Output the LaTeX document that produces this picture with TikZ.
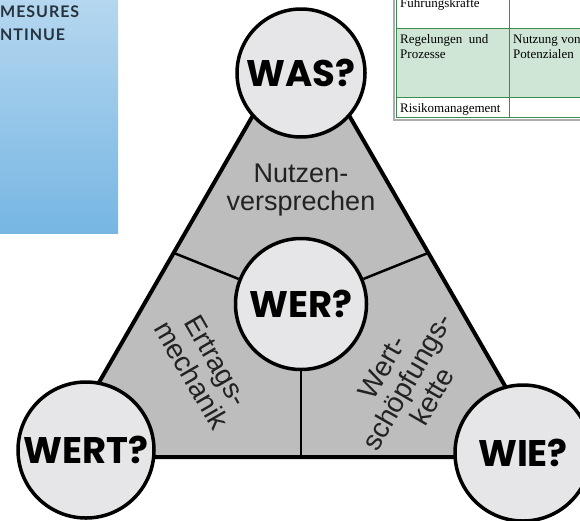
\documentclass[tikz,border=0pt]{standalone}
\usepackage{fontspec}
\setmainfont{Liberation Sans}
\newfontfamily\qfont{Poppins}
\newfontfamily\tabfont{Liberation Serif}
\newfontfamily\boxfont{Lato}[LetterSpace=6]
\definecolor{boxtop}{HTML}{B5D7EF}
\definecolor{boxbot}{HTML}{76B6E3}
\definecolor{boxtext}{HTML}{27323E}
\definecolor{tabgreen}{HTML}{CFE6D6}
\definecolor{gridgreen}{HTML}{3C8C50}
\definecolor{trigray}{HTML}{BDBDBD}
\definecolor{circfill}{HTML}{E6E6E8}
\definecolor{regtext}{HTML}{222222}
\begin{document}
\begin{tikzpicture}[x=1pt,y=-1pt,
  qcircle/.style={circle, draw=black, line width=3.5pt, fill=circfill, inner sep=0pt,
    font=\qfont\bfseries\fontsize{37}{37}\selectfont},
  region/.style={align=center, inner sep=0pt, text=regtext,
    font=\fontsize{27}{27.5}\selectfont},
  rotregion/.style={region, font=\fontsize{28}{29}\selectfont},
  divider/.style={line width=2.5pt, black},
  tabtext/.style={anchor=base west, inner sep=0pt, align=left,
    font=\tabfont\fontsize{13}{15}\selectfont},
  boxlabel/.style={anchor=base west, inner sep=0pt, text=boxtext,
    font=\boxfont\bfseries\fontsize{16}{16}\selectfont}]
\clip (0,0) rectangle (580,520);
\fill[white] (0,0) rectangle (580,520);

% blue box
\shade[top color=boxtop, bottom color=boxbot] (0,0) rectangle (118,233);
\node[boxlabel] (b1) at (0,17) {MESURES};
\node[boxlabel] (b2) at (0,40) {NTINUE};

% table
\fill[tabgreen] (396,28) rectangle (590,97);
\draw[gray!65, line width=2pt] (393.5,-5) -- (393.5,119.5) -- (590,119.5);
\draw[gridgreen, line width=1pt] (396.5,-5) -- (396.5,117) -- (590,117);
\draw[gridgreen, line width=1pt] (396.5,28) -- (590,28);
\draw[gridgreen, line width=1pt] (396.5,97) -- (590,97);
\draw[gridgreen, line width=1pt] (509,-5) -- (509,117);
\node[tabtext] (t1) at (400,7) {Führungskräfte};
\node[tabtext] (t2a) at (400,43) {Regelungen\ \ und};
\node[tabtext] (t2b) at (400,58) {Prozesse};
\node[tabtext] (t3a) at (513,43) {Nutzung von};
\node[tabtext] (t3b) at (513,58) {Potenzialen};
\node[tabtext] (t4) at (400,112) {Risikomanagement};

% triangle
\coordinate (A) at (301,32);
\coordinate (L) at (56,457);
\coordinate (R) at (546,457);
\filldraw[fill=trigray, draw=black, line width=4pt, line join=round] (A) -- (R) -- (L) -- cycle;

% centre circle and dividers
\node[qcircle, minimum size=131pt] (wer) at (301,304) {WER?};
\coordinate (dl) at (174,253);
\coordinate (dr) at (428,253);
\coordinate (db) at (301,457);
\draw[divider] (wer) -- (dl);
\draw[divider] (wer) -- (dr);
\draw[divider] (wer) -- (db);

% region labels
\node[region] (nutz) at (301,190) {Nutzen-\\versprechen};
\node[rotregion, rotate=-60] (ertr) at (204,368) {Ertrags-\\mechanik};
\node[rotregion, rotate=60] (wert) at (407,382) {Wert-\\schöpfungs-\\kette};

% corner circles
\node[qcircle, minimum size=128pt] (was) at (301,73) {WAS?};
\node[qcircle, minimum size=136pt] (wertq) at (86,450) {WERT?};
\node[qcircle, minimum size=136pt] (wie) at (523,453) {WIE?};
\end{tikzpicture}
\end{document}
